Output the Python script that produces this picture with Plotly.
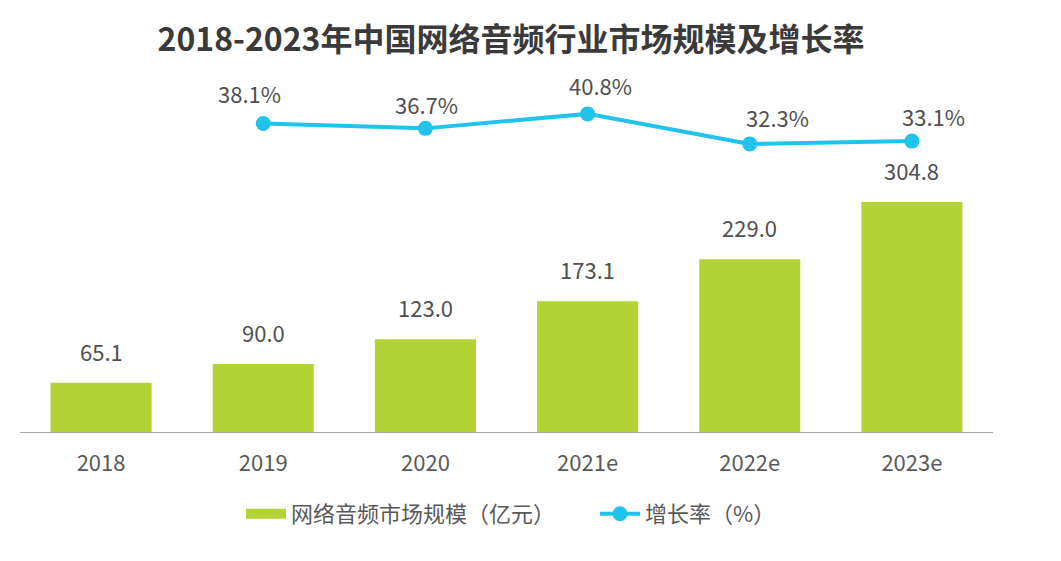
import plotly.graph_objects as go

years = ["2018", "2019", "2020", "2021e", "2022e", "2023e"]
market_size = [65.1, 90.0, 123.0, 173.1, 229.0, 304.8]
growth_years = ["2019", "2020", "2021e", "2022e", "2023e"]
growth_rate = [38.1, 36.7, 40.8, 32.3, 33.1]

# label offsets (pixels) as placed in the reference chart
growth_label_xshift = [-14, 1, 13, 28, 22]
growth_label_yshift = [12, 6, 11, 9, 7]

FONT = "Noto Sans CJK SC"
BAR_C = "#b3d334"
LINE_C = "#21c3ec"
TXT = "#505050"
BAR_NAME = "网络音频市场规模（亿元）"
LINE_NAME = "增长率（%）"

fig = go.Figure()
fig.add_trace(go.Bar(
    x=years, y=market_size, name=BAR_NAME,
    marker=dict(color=BAR_C, line=dict(width=0)),
    yaxis="y", showlegend=False,
))
# legend proxy (wide swatch like the reference legend)
fig.add_trace(go.Scatter(
    x=[None], y=[None], name=BAR_NAME, mode="lines",
    line=dict(color=BAR_C, width=13), showlegend=True, hoverinfo="skip",
))
fig.add_trace(go.Scatter(
    x=growth_years, y=growth_rate, name=LINE_NAME,
    mode="lines+markers",
    line=dict(color=LINE_C, width=4),
    marker=dict(color=LINE_C, size=15),
    yaxis="y2",
))

# category positions (index on the category axis)
annotations = []
for x, v in zip(years, market_size):
    annotations.append(dict(x=years.index(x), y=v, xref="x", yref="y", text=f"{v:.1f}",
                            showarrow=False, yanchor="bottom", yshift=14,
                            font=dict(family=FONT, size=22, color=TXT)))
for x, v, dx, dy in zip(growth_years, growth_rate, growth_label_xshift, growth_label_yshift):
    annotations.append(dict(x=years.index(x), y=v, xref="x", yref="y2", text=f"{v:.1f}%",
                            showarrow=False, yanchor="bottom", xshift=dx, yshift=dy,
                            font=dict(family=FONT, size=22, color=TXT)))

fig.update_layout(
    width=1061, height=561,
    margin=dict(l=12, r=76, t=72, b=137),
    paper_bgcolor="white", plot_bgcolor="white",
    font=dict(family=FONT, color=TXT),
    title=dict(text="<b>2018-2023年中国网络音频行业市场规模及增长率</b>",
               x=503/1061, xref="container", xanchor="center",
               y=1-32/561, yref="container", yanchor="middle",
               font=dict(family=FONT, size=32, color="#3a3a3a")),
    bargap=0.377,
    xaxis=dict(type="category", categoryorder="array", categoryarray=years,
               showline=True, linecolor="#a6a6a6", linewidth=1,
               showgrid=False, ticks="", ticklabelstandoff=12,
               tickfont=dict(family=FONT, size=22, color="#595959"),
               range=[-0.5, 5.5]),
    yaxis=dict(range=[0, 466.4], visible=False, showgrid=False),
    yaxis2=dict(range=[-49.3, 50.4], overlaying="y", visible=False, showgrid=False),
    showlegend=True,
    legend=dict(orientation="h", x=(233-12)/973, xanchor="left", y=-0.233, yanchor="middle",
                font=dict(family=FONT, size=22, color="#595959"),
                entrywidth=299, itemwidth=40, traceorder="normal"),
    annotations=annotations,
)

fig.write_html("out.html")
